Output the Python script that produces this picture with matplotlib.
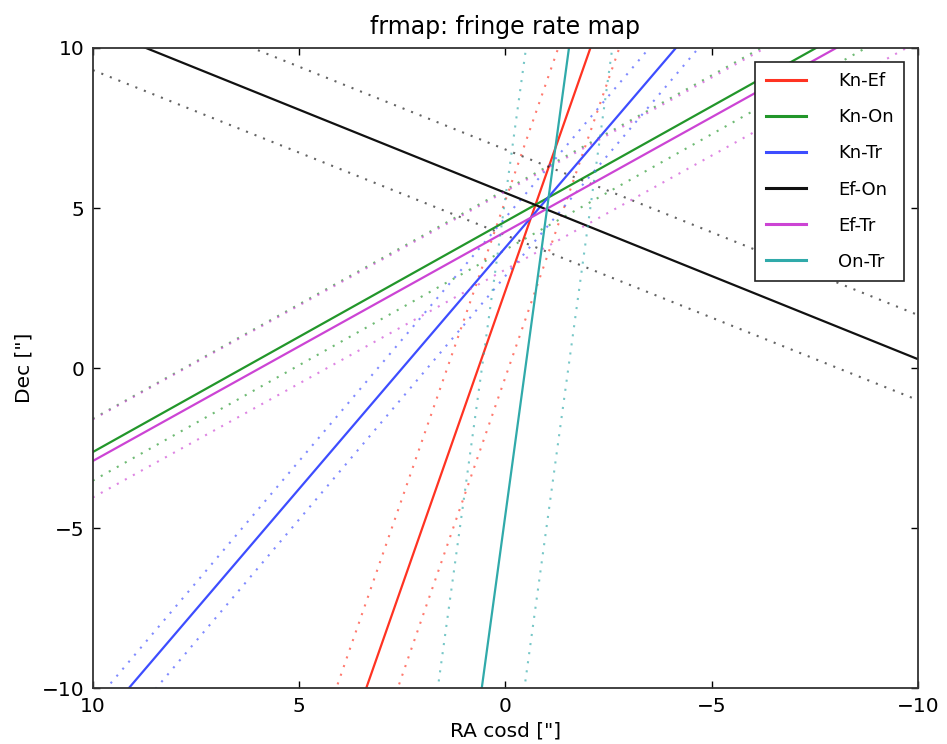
import numpy as np
import matplotlib
matplotlib.use("Agg")
import matplotlib.pyplot as plt

# baselines and their colours
baselines = ["Kn-Ef", "Kn-On", "Kn-Tr", "Ef-On", "Ef-Tr", "On-Tr"]
colors = ["#ff3322", "#22962a", "#3d4dff", "#111111", "#cc44d4", "#30aaaa"]

# fringe rate lines  Dec = slope * RA + icpt
slopes = [-3.68, -0.720, -1.508, 0.5195, -0.716, -9.46]
icpts = [2.42, 4.58, 3.77, 5.475, 4.26, -4.57]

# dotted bounds either side of each line
hi_slopes = [-3.717, -0.715, -1.520, 0.517, -0.712, -9.35]
hi_icpts = [5.24, 5.57, 4.70, 6.83, 5.52, 5.33]
lo_slopes = [-3.724, -0.7215, -1.521, 0.5155, -0.712, -9.39]
lo_icpts = [-0.28, 3.70, 2.88, 4.155, 3.08, -14.32]

ra = np.array([10.0, -10.0])


def initialize_plot():
    fig = plt.figure(figsize=(9.47, 7.44), dpi=100)
    ax = fig.add_axes([0.098, 0.0748, 0.8714, 0.8607])
    ax.set_xlim(10, -10)
    ax.set_ylim(-10, 10)
    ax.set_xticks([10, 5, 0, -5, -10])
    ax.set_yticks([-10, -5, 0, 5, 10])
    ax.tick_params(direction="in", length=5, width=1, top=True, right=True,
                   labelsize=14.5, pad=6)
    for sp in ax.spines.values():
        sp.set_linewidth(1.3)
        sp.set_color("#333333")
    ax.set_xlabel('RA cosd ["]', fontsize=14.5, labelpad=4)
    ax.set_ylabel('Dec ["]', fontsize=14.5, labelpad=6)
    ax.set_title("frmap: fringe rate map", fontsize=17, pad=10)
    return fig, ax


fig, ax = initialize_plot()

for i in range(len(baselines)):
    ax.plot(ra, slopes[i] * ra + icpts[i], color=colors[i], lw=1.6,
            label=baselines[i])
    for m, c in [(hi_slopes[i], hi_icpts[i]), (lo_slopes[i], lo_icpts[i])]:
        ax.plot(ra, m * ra + c, color=colors[i], lw=1.5, alpha=0.65,
                linestyle=(0, (1, 3.4)))

leg = ax.legend(loc="upper right", fontsize=13, handlelength=2.2,
                handletextpad=1.8, labelspacing=1.0, borderpad=0.6,
                borderaxespad=0.75, fancybox=False, framealpha=1)
leg.get_frame().set_edgecolor("#222222")
leg.get_frame().set_linewidth(1.2)
for line in leg.get_lines():
    line.set_linewidth(2.2)

fig.savefig("out.png", dpi=100)
